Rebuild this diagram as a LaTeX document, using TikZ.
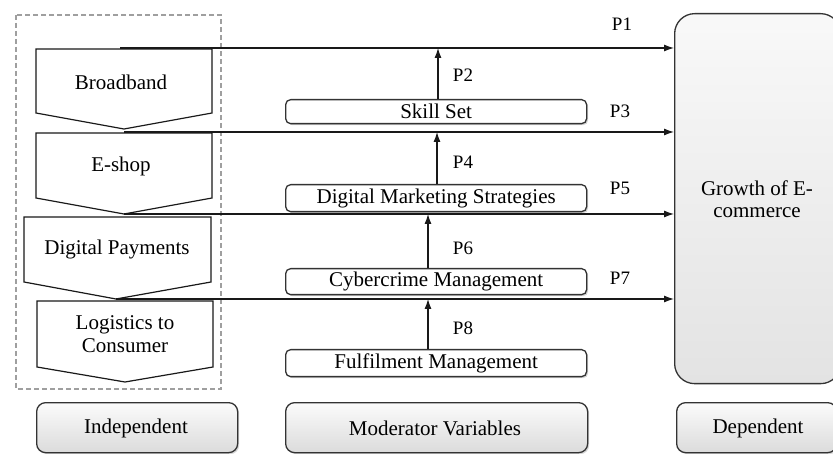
\documentclass[tikz,border=0pt]{standalone}
\usepackage{fontspec}
\setmainfont{Liberation Serif}
\usetikzlibrary{arrows.meta,shadows}

\tikzset{
  txt/.style={font=\fontsize{21}{22.5}\selectfont, inner sep=0pt, align=center},
  plabel/.style={font=\fontsize{19}{20}\selectfont, inner sep=0pt},
  chevron/.style={draw=black!90, line width=1.2pt, fill=white},
  modbox/.style={draw=black!80, line width=1.3pt, rounded corners=5pt, fill=white,
    drop shadow={opacity=0.35, shadow xshift=1.5pt, shadow yshift=-1.5pt}},
  basebox/.style={draw=black!80, line width=1.3pt, rounded corners=9pt,
    top color=gray!3, bottom color=gray!28,
    drop shadow={opacity=0.35, shadow xshift=1.5pt, shadow yshift=-1.5pt}},
  link/.style={draw=black!90, line width=1.1pt, -{Latex[length=10pt,width=7pt]}},
}

\begin{document}
\begin{tikzpicture}[x=1pt,y=-1pt]
\useasboundingbox (0,0) rectangle (833,454);
\clip (0,0) rectangle (833,454);

% independent variables: stacked chevrons inside a dashed frame
\draw[gray!75, line width=1.8pt, dash pattern=on 5pt off 3pt] (16,15) rectangle (221,389);

\draw[chevron] (36,49) -- (212,49) -- (212,113) -- (124,129) -- (36,113) -- cycle;
\coordinate (tipA) at (124,129);
\node[txt] (bb) at (121,82) {Broadband};

\draw[chevron] (36,133) -- (212,133) -- (212,198) -- (124,214) -- (36,198) -- cycle;
\coordinate (tipB) at (124,214);
\node[txt] (es) at (121,166) {E-shop};

\draw[chevron] (24,217) -- (211,217) -- (211,282) -- (116,299) -- (24,282) -- cycle;
\coordinate (tipC) at (116,299);
\node[txt] (dp) at (117,249) {Digital Payments};

\draw[chevron] (37,301) -- (213,301) -- (213,367) -- (125,382) -- (37,367) -- cycle;
\node[txt] (lc) at (125,334) {Logistics to\\Consumer};

\coordinate (startA) at (120,48);

% dependent variable
\node[draw=black!80, line width=1.3pt, rounded corners=20pt,
      top color=gray!5, bottom color=gray!22,
      minimum width=166pt, minimum height=370pt, anchor=north west] (growth) at (674,13) {};
\node[txt] (gtext) at (757,199) {Growth of E-\\commerce};

% moderator variables
\node[modbox, minimum width=301pt, minimum height=24pt, anchor=north west] (ss) at (285,99) {};
\node[txt] at (ss.center) {Skill Set};
\node[modbox, minimum width=301pt, minimum height=27pt, anchor=north west] (dm) at (285,184) {};
\node[txt] at (dm.center) {Digital Marketing Strategies};
\node[modbox, minimum width=301pt, minimum height=26pt, anchor=north west] (cm) at (285,268) {};
\node[txt] at (cm.center) {Cybercrime Management};
\node[modbox, minimum width=301pt, minimum height=27pt, anchor=north west] (fm) at (285,349) {};
\node[txt] at (fm.center) {Fulfilment Management};

% direct paths into the dependent variable
\draw[link] (startA) -- (growth.west |- startA);
\coordinate (startB) at (tipA |- 0,132);
\draw[link] (startB) -- (growth.west |- startB);
\coordinate (startC) at (tipB |- 0,214);
\draw[link] (startC) -- (growth.west |- startC);
\coordinate (startD) at (tipC |- 0,299);
\draw[link] (startD) -- (growth.west |- startD);

% moderating paths
\draw[link] (438,99) coordinate (ssTop) -- (ssTop |- startA);
\draw[link] (437,184) coordinate (dmTop) -- (dmTop |- startB);
\draw[link] (428,268) coordinate (cmTop) -- (cmTop |- startC);
\draw[link] (428,349) coordinate (fmTop) -- (fmTop |- startD);

% path labels
\node[plabel] (p1) at (622,24) {P1};
\node[plabel] (p2) at (463,75) {P2};
\node[plabel] (p3) at (620,111) {P3};
\node[plabel] (p4) at (463,162) {P4};
\node[plabel] (p5) at (620,188) {P5};
\node[plabel] (p6) at (463,248) {P6};
\node[plabel] (p7) at (620,278) {P7};
\node[plabel] (p8) at (463,328) {P8};

% category captions
\node[basebox, minimum width=201pt, minimum height=50pt, anchor=north west] (ind) at (36,402) {};
\node[txt] at (136,428) {Independent};
\node[basebox, minimum width=302pt, minimum height=50pt, anchor=north west] (mod) at (285,402) {};
\node[txt] at (435,428) {Moderator Variables};
\node[basebox, minimum width=160pt, minimum height=50pt, anchor=north west] (dep) at (676,402) {};
\node[txt] at (758,428) {Dependent};
\end{tikzpicture}
\end{document}
